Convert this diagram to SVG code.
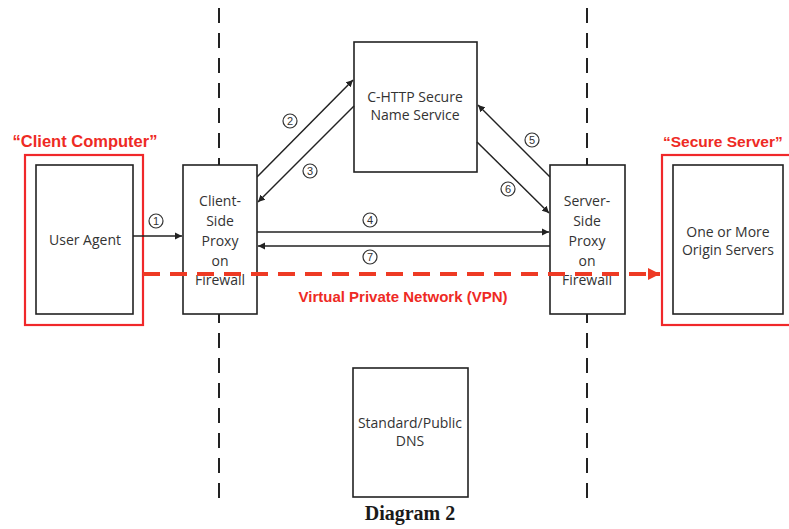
<svg xmlns="http://www.w3.org/2000/svg" width="789" height="529" viewBox="0 0 789 529">
<style>
.box{fill:#fff;stroke:#222;stroke-width:1.6}
.red{fill:none;stroke:#f0282a;stroke-width:2.2}
.lbl{font-family:"Open Sans","Liberation Sans",sans-serif;font-size:14px;fill:#333;text-anchor:middle}
.rt{font-family:"Liberation Sans",Arial,sans-serif;font-weight:bold;fill:#ee2a24}
.con{stroke:#222;stroke-width:1.5;fill:none}
.vd{stroke:#222;stroke-width:2;stroke-dasharray:15 10}
.num circle{fill:#fff;stroke:#333;stroke-width:1.2}
.num text{font-family:"Liberation Sans",Arial,sans-serif;font-size:11px;fill:#333;text-anchor:middle}
</style>
<defs>
<marker id="ah" markerWidth="8" markerHeight="8" refX="7" refY="4" orient="auto" markerUnits="userSpaceOnUse">
<path d="M0,0.5 L7,4 L0,7.5 Z" fill="#222"/>
</marker>
<marker id="rah" markerWidth="14" markerHeight="14" refX="12" refY="7" orient="auto" markerUnits="userSpaceOnUse">
<path d="M0,1 L12,7 L0,13 Z" fill="#ee3a24"/>
</marker>
</defs>
<rect width="789" height="529" fill="#fff"/>
<g id="dividers">
<line class="vd" x1="219" y1="8" x2="219" y2="500"/>
<line class="vd" x1="587" y1="8" x2="587" y2="500"/>
</g>
<g id="client-computer">
<rect class="red" x="25" y="155" width="118" height="170"/>
<text class="rt" x="85" y="147" font-size="16.5" text-anchor="middle">“Client Computer”</text>
</g>
<g id="user-agent">
<rect class="box" x="36" y="165" width="97" height="149"/>
<text class="lbl" x="85" y="245">User Agent</text>
</g>
<g id="secure-server">
<rect class="red" x="662" y="155" width="130" height="170"/>
<text class="rt" x="663" y="147" font-size="15.5">“Secure Server”</text>
</g>
<g id="origin-servers">
<rect class="box" x="673" y="165" width="110" height="149"/>
<text class="lbl" x="728" y="237">One or More</text>
<text class="lbl" x="728" y="255">Origin Servers</text>
</g>
<g id="chttp">
<rect class="box" x="354" y="42" width="123" height="130"/>
<text class="lbl" x="415" y="102">C-HTTP Secure</text>
<text class="lbl" x="415" y="120">Name Service</text>
</g>
<g id="dns">
<rect class="box" x="353" y="368" width="115" height="129"/>
<text class="lbl" x="410" y="428">Standard/Public</text>
<text class="lbl" x="410" y="446">DNS</text>
</g>
<g id="connectors">
<line class="con" x1="133" y1="236" x2="182" y2="236" marker-end="url(#ah)"/>
<line class="con" x1="257" y1="177" x2="353" y2="80" marker-end="url(#ah)"/>
<line class="con" x1="354" y1="106" x2="258" y2="202" marker-end="url(#ah)"/>
<line class="con" x1="550" y1="177" x2="478" y2="105" marker-end="url(#ah)"/>
<line class="con" x1="477" y1="142" x2="549" y2="213" marker-end="url(#ah)"/>
<line class="con" x1="257" y1="232" x2="549" y2="232" marker-end="url(#ah)"/>
<line class="con" x1="550" y1="246" x2="258" y2="246" marker-end="url(#ah)"/>
</g>
<g id="client-proxy">
<rect class="box" x="183" y="165" width="74" height="149"/>
<text class="lbl" x="220" y="206">Client-</text>
<text class="lbl" x="220" y="226">Side</text>
<text class="lbl" x="220" y="246">Proxy</text>
<text class="lbl" x="220" y="266">on</text>
<text class="lbl" x="220" y="285" font-size="12">Firewall</text>
</g>
<g id="server-proxy">
<rect class="box" x="550" y="165" width="75" height="149"/>
<text class="lbl" x="587" y="206">Server-</text>
<text class="lbl" x="587" y="226">Side</text>
<text class="lbl" x="587" y="246">Proxy</text>
<text class="lbl" x="587" y="266">on</text>
<text class="lbl" x="587" y="285" font-size="12">Firewall</text>
</g>
<g id="vpn">
<line x1="143" y1="274" x2="660" y2="274" stroke="#ee3a24" stroke-width="4" stroke-dasharray="17 10" marker-end="url(#rah)"/>
<text class="rt" x="403" y="302" font-size="15" text-anchor="middle">Virtual Private Network (VPN)</text>
</g>
<g id="step-numbers" class="num">
<circle cx="156" cy="221" r="7"/><text x="156" y="225">1</text>
<circle cx="290" cy="121" r="7"/><text x="290" y="125">2</text>
<circle cx="310" cy="171" r="7"/><text x="310" y="175">3</text>
<circle cx="370" cy="220" r="7"/><text x="370" y="224">4</text>
<circle cx="532" cy="140" r="7"/><text x="532" y="144">5</text>
<circle cx="508" cy="189" r="7"/><text x="508" y="193">6</text>
<circle cx="370" cy="257" r="7"/><text x="370" y="261">7</text>
</g>
<text x="410" y="520" font-family="'Liberation Serif','Times New Roman',serif" font-weight="bold" font-size="20" fill="#1a1a1a" text-anchor="middle">Diagram 2</text>
</svg>
